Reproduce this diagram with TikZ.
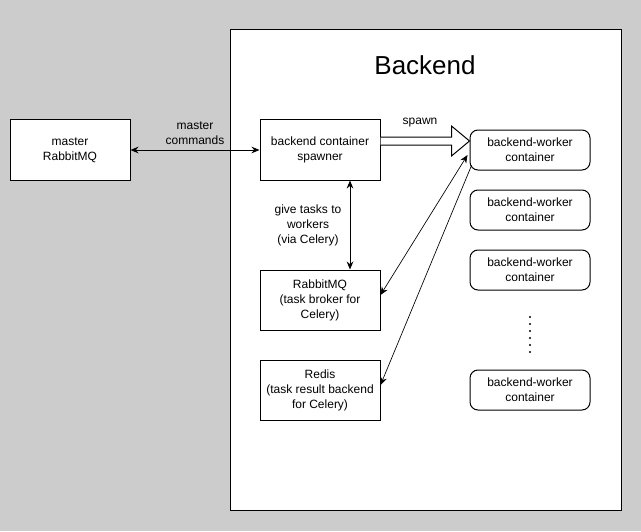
\documentclass[tikz,border=0pt]{standalone}
\usepackage{fontspec}
\setmainfont{Liberation Sans}
\usetikzlibrary{arrows.meta,calc}
\definecolor{canvas}{HTML}{CCCCCC}
\begin{document}
\begin{tikzpicture}[x=0.75pt,y=-0.75pt,line width=0.75pt,
		box/.style={draw,fill=white,minimum width=90pt,minimum height=45pt,inner sep=0pt,align=center,font=\fontsize{9}{11.25}\selectfont},
		worker/.style={box,rounded corners=6pt,minimum height=30pt},
		lbl/.style={align=center,font=\fontsize{9}{11.25}\selectfont},
		>={Stealth[length=6pt,width=5pt]}]
		% background
		\fill [canvas] (0,0) rectangle (641,531);
		\draw [fill=white] (230,30) rectangle (621,510);
		\node [font=\fontsize{19.5}{22}\selectfont] (title) at (425,65) {Backend};
		% boxes
			\node [box] (master) at (70,150) {master\\RabbitMQ};
			\node [box] (spawner) at (320,150) {backend container\\spawner};
			\node [box] (broker) at (320,300) {RabbitMQ\\(task broker for\\Celery)};
			\node [box] (redis) at (320,390) {Redis\\(task result backend\\for Celery)};
		% workers
			\foreach \n/\y in {1/150,2/210,3/270,4/390}
				\node [worker] (worker\n) at (530,\y) {backend-worker\\container};
			\foreach \y in {317,324,...,352}
				\fill (530,\y) circle (1.1);
		% spawn arrow
			\draw [fill=white,line join=miter] ($(spawner.east)+(0,-13)$) -- ($(worker1.west)+(-18,-13)$) -- ($(worker1.west)+(-18,-24)$)
				-- ($(worker1.west)+(0,-9)$) -- ($(worker1.west)+(-18,6)$) -- ($(worker1.west)+(-18,-5)$) -- ($(spawner.east)+(0,-5)$);
			\node [lbl] (spawnlbl) at (420,123) {spawn};
		% arrows
			\draw [<->] (master.east) -- (spawner.west);
			\node [lbl] (cmdlbl) at (195,133) {master\\commands};
			\draw [<->] ($(spawner.south)+(30,0)$) -- ($(broker.north)+(30,0)$);
			\node [lbl] (tasklbl) at (308,225) {give tasks to\\workers\\(via Celery)};
			\draw [<->,line width=0.5pt] ($(worker1.west)+(-2,5)$) -- ($(broker.east)+(0,-5)$);
			\draw [->,line width=0.5pt] ($(worker1.south west)+(2,-5)$) -- ($(redis.east)+(0,-5)$);
	\end{tikzpicture}
\end{document}
